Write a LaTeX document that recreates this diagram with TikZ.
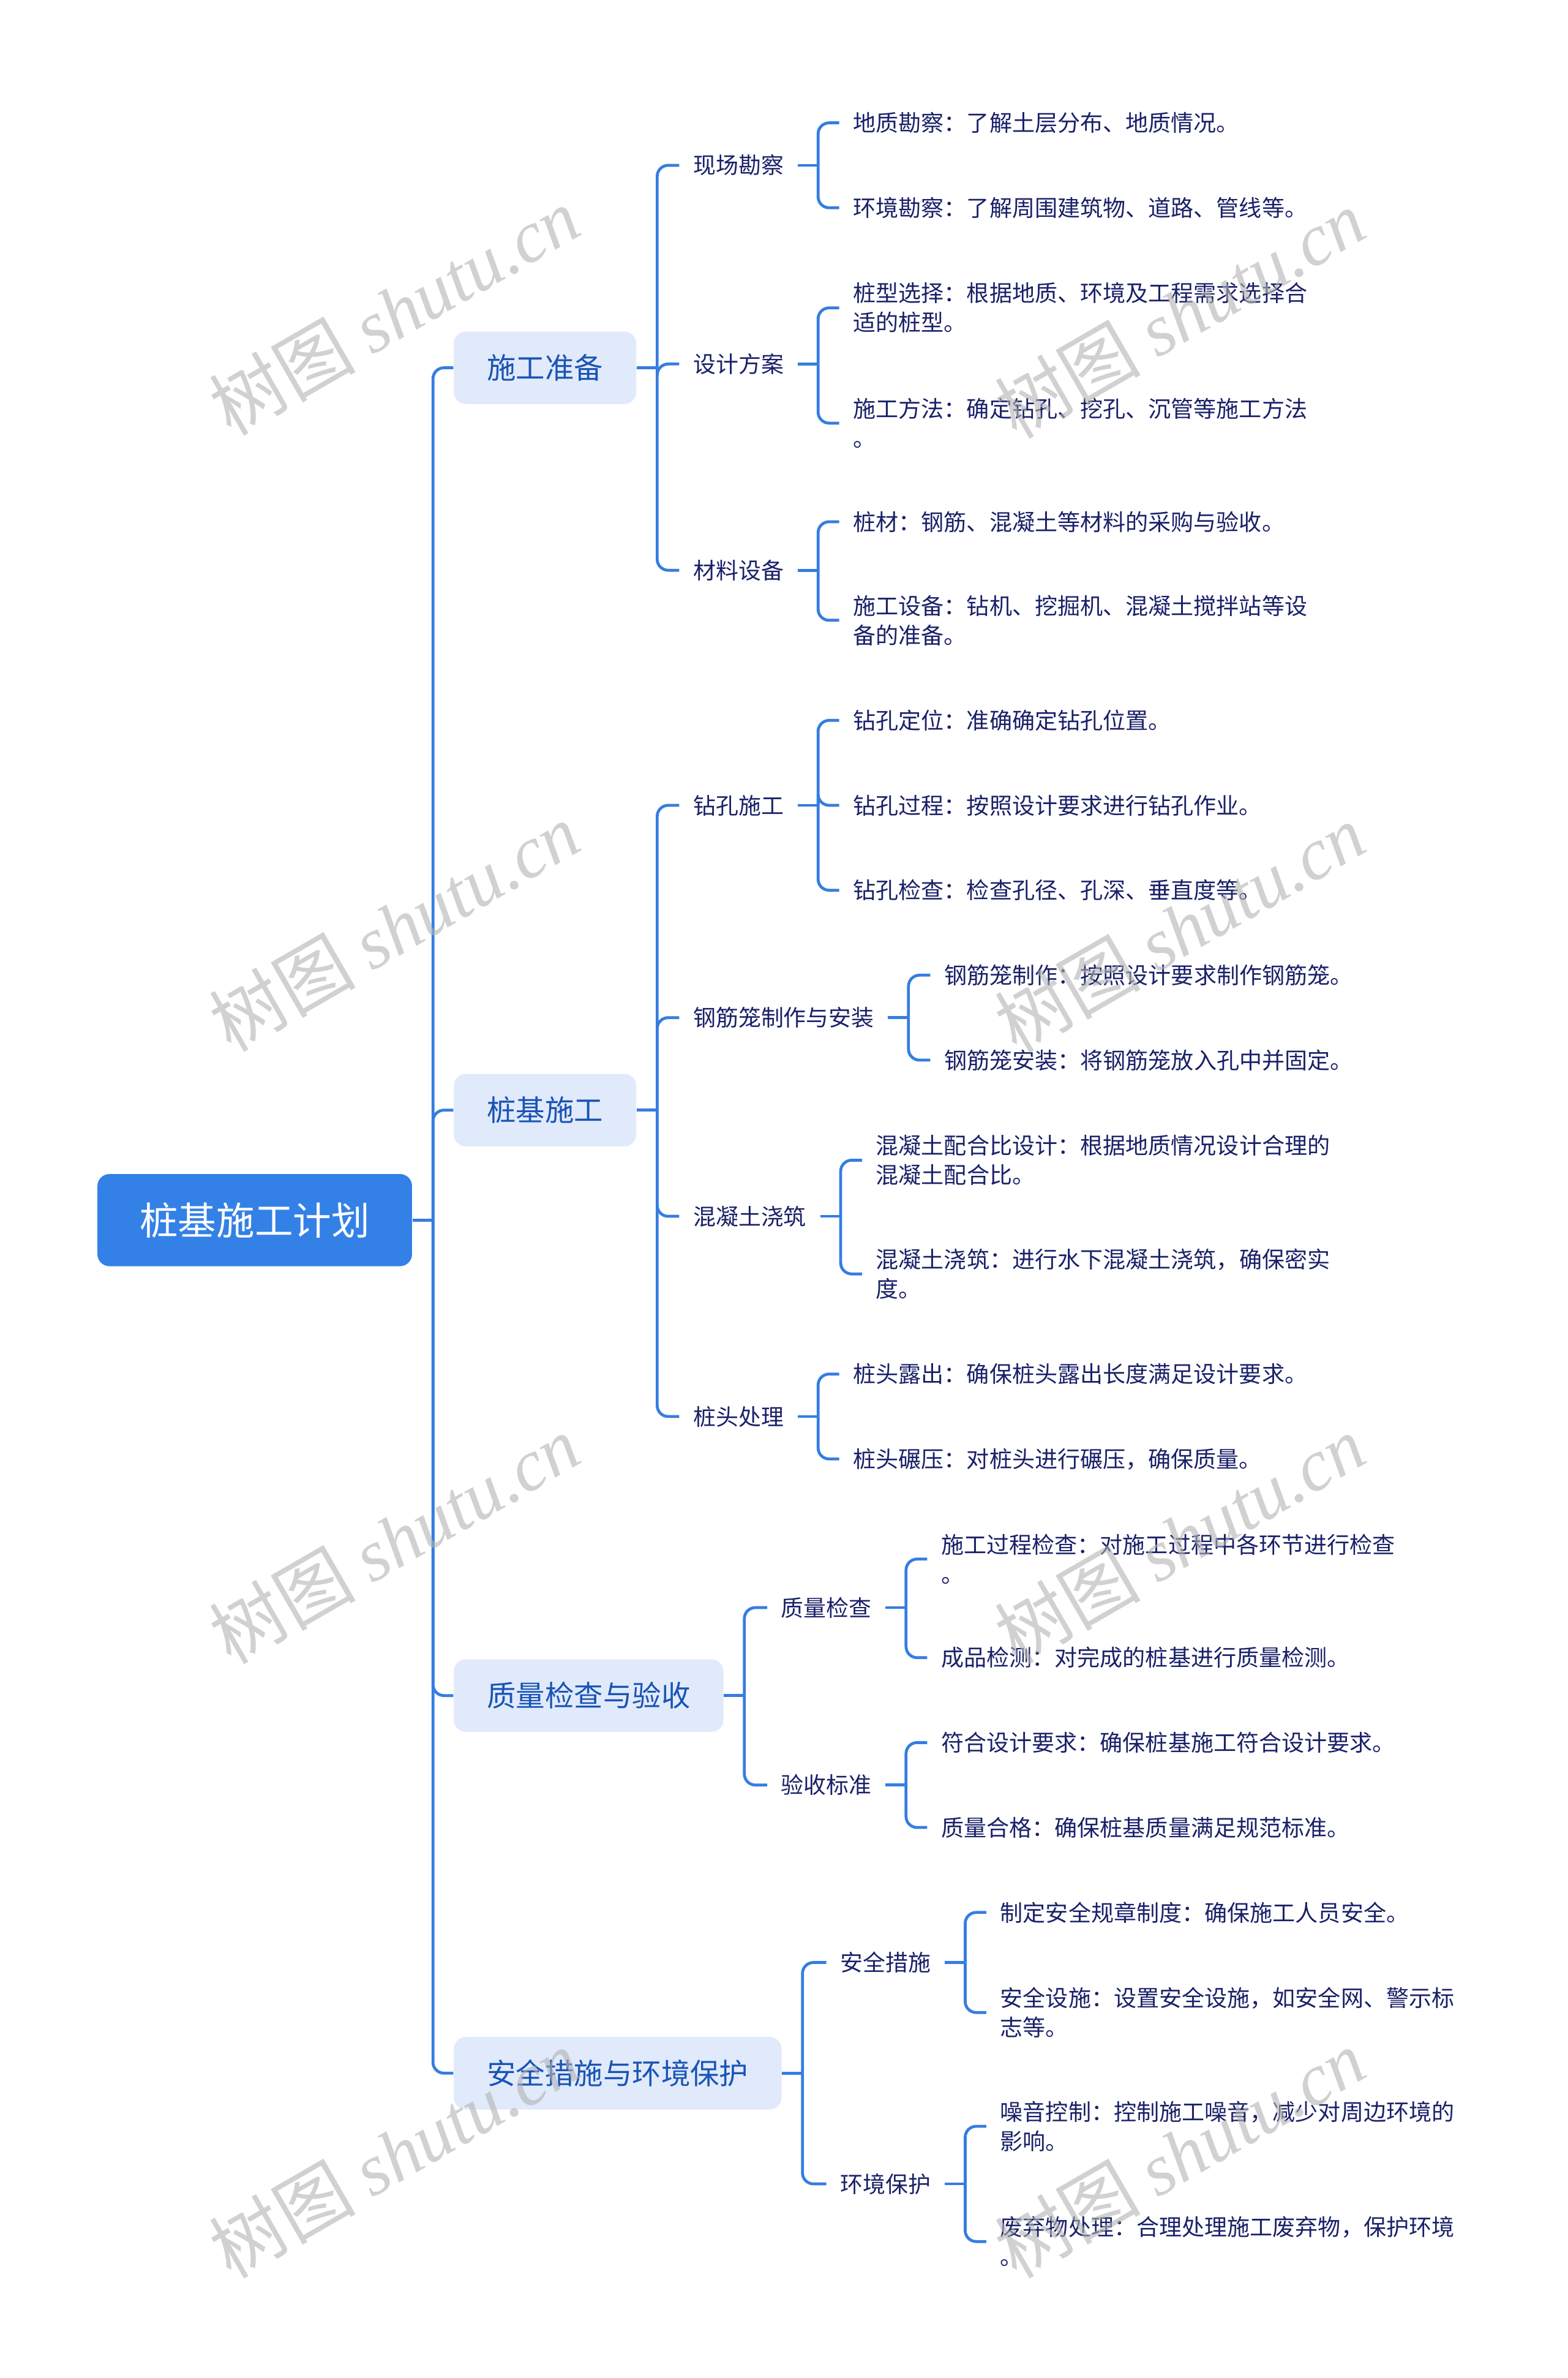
\documentclass[tikz,border=0pt]{standalone}
\usepackage{fontspec}
\setmainfont{Noto Sans CJK SC}
\newfontfamily\wmfont{Liberation Serif}
\usepackage{xcolor}
\usepackage{tikz}
\usetikzlibrary{positioning}

\definecolor{rootblue}{HTML}{3381E6}
\definecolor{topicfill}{HTML}{E1EAFB}
\definecolor{topictext}{HTML}{1A54B5}
\definecolor{subtext}{HTML}{1A2168}
\definecolor{lineblue}{HTML}{357DE1}

\begin{document}
\begin{tikzpicture}[
  x=0.2476mm, y=-0.2476mm,
  rootbox/.style={fill=rootblue, text=white, rounded corners=5.6pt,
             inner xsep=19.7pt, minimum height=42.8pt,
             font=\fontsize{17.8}{20}\selectfont},
  topic/.style={fill=topicfill, text=topictext, rounded corners=5.6pt, anchor=west,
             inner xsep=15.4pt, minimum height=33.7pt,
             font=\fontsize{13.5}{16}\selectfont},
  sub/.style={text=subtext, anchor=west, inner xsep=6.3pt, inner ysep=2pt,
             font=\fontsize{10.5}{13}\selectfont},
  leaf/.style={text=subtext, anchor=west, align=left, inner xsep=6.3pt, inner ysep=2pt,
             font=\fontsize{10.55}{13.7}\selectfont},
  ln/.style={draw=lineblue, line width=1.35pt, rounded corners=1.8mm},
  wm/.style={rotate=30, text=black!30, text opacity=0.6,
             font=\fontsize{34}{34}\selectfont}]

\useasboundingbox (0,0) rectangle (1034,1568);

% ---- root and main topics ------------------------------------------------
\node[rootbox] (R) at (168,804.5) {桩基施工计划};
\node[topic] (T1) at (299,242.5) {施工准备};
\node[topic] (T2) at (299,732)   {桩基施工};
\node[topic] (T3) at (299,1118)  {质量检查与验收};
\node[topic] (T4) at (299,1367)  {安全措施与环境保护};

\draw[ln] (R.east) -- ++(13.5,0) coordinate (r0);
\draw[ln] (r0) |- (T1.west);
\draw[ln] (r0) |- (T2.west);
\draw[ln] (r0) |- (T3.west);
\draw[ln] (r0) |- (T4.west);

% ---- 施工准备 ------------------------------------------------------------
\node[sub] (A) at (448,109) {现场勘察};
\node[sub] (B) at (448,240) {设计方案};
\node[sub] (C) at (448,376) {材料设备};
\node[leaf] (A1) at (553.5,81)  {地质勘察：了解土层分布、地质情况。};
\node[leaf] (A2) at (553.5,137) {环境勘察：了解周围建筑物、道路、管线等。};
\node[leaf] (B1) at (553.5,203) {桩型选择：根据地质、环境及工程需求选择合\\适的桩型。};
\node[leaf] (B2) at (553.5,279) {施工方法：确定钻孔、挖孔、沉管等施工方法\\。};
\node[leaf] (C1) at (553.5,344) {桩材：钢筋、混凝土等材料的采购与验收。};
\node[leaf] (C2) at (553.5,409) {施工设备：钻机、挖掘机、混凝土搅拌站等设\\备的准备。};

\draw[ln] (T1.east) -- ++(13.5,0) coordinate (t1);
\draw[ln] (t1) |- (A.west);
\draw[ln] (t1) |- (B.west);
\draw[ln] (t1) |- (C.west);
\draw[ln] (A.east) -- ++(13.5,0) coordinate (a0);
\draw[ln] (a0) |- (A1.west);
\draw[ln] (a0) |- (A2.west);
\draw[ln] (B.east) -- ++(13.5,0) coordinate (b0);
\draw[ln] (b0) |- (B1.west);
\draw[ln] (b0) |- (B2.west);
\draw[ln] (C.east) -- ++(13.5,0) coordinate (c0);
\draw[ln] (c0) |- (C1.west);
\draw[ln] (c0) |- (C2.west);

% ---- 桩基施工 ------------------------------------------------------------
\node[sub] (D) at (448,531) {钻孔施工};
\node[sub] (E) at (448,671) {钢筋笼制作与安装};
\node[sub] (F) at (448,802) {混凝土浇筑};
\node[sub] (G) at (448,934) {桩头处理};
\node[leaf] (D1) at (553.5,475) {钻孔定位：准确确定钻孔位置。};
\node[leaf] (D2) at (553.5,531) {钻孔过程：按照设计要求进行钻孔作业。};
\node[leaf] (D3) at (553.5,587) {钻孔检查：检查孔径、孔深、垂直度等。};
\node[leaf] (E1) at (613.5,643) {钢筋笼制作：按照设计要求制作钢筋笼。};
\node[leaf] (E2) at (613.5,699) {钢筋笼安装：将钢筋笼放入孔中并固定。};
\node[leaf] (F1) at (568.5,765) {混凝土配合比设计：根据地质情况设计合理的\\混凝土配合比。};
\node[leaf] (F2) at (568.5,840) {混凝土浇筑：进行水下混凝土浇筑，确保密实\\度。};
\node[leaf] (G1) at (553.5,906) {桩头露出：确保桩头露出长度满足设计要求。};
\node[leaf] (G2) at (553.5,962) {桩头碾压：对桩头进行碾压，确保质量。};

\draw[ln] (T2.east) -- ++(13.5,0) coordinate (t2);
\draw[ln] (t2) |- (D.west);
\draw[ln] (t2) |- (E.west);
\draw[ln] (t2) |- (F.west);
\draw[ln] (t2) |- (G.west);
\draw[ln] (D.east) -- ++(13.5,0) coordinate (d0);
\draw[ln] (d0) |- (D1.west);
\draw[ln] (d0) |- (D2.west);
\draw[ln] (d0) |- (D3.west);
\draw[ln] (E.east) -- ++(13.5,0) coordinate (e0);
\draw[ln] (e0) |- (E1.west);
\draw[ln] (e0) |- (E2.west);
\draw[ln] (F.east) -- ++(13.5,0) coordinate (f0);
\draw[ln] (f0) |- (F1.west);
\draw[ln] (f0) |- (F2.west);
\draw[ln] (G.east) -- ++(13.5,0) coordinate (g0);
\draw[ln] (g0) |- (G1.west);
\draw[ln] (g0) |- (G2.west);

% ---- 质量检查与验收 ------------------------------------------------------
\node[sub] (H) at (506,1060) {质量检查};
\node[sub] (I) at (506,1177) {验收标准};
\node[leaf] (H1) at (611.5,1028) {施工过程检查：对施工过程中各环节进行检查\\。};
\node[leaf] (H2) at (611.5,1093) {成品检测：对完成的桩基进行质量检测。};
\node[leaf] (I1) at (611.5,1149) {符合设计要求：确保桩基施工符合设计要求。};
\node[leaf] (I2) at (611.5,1205) {质量合格：确保桩基质量满足规范标准。};

\draw[ln] (T3.east) -- ++(13.5,0) coordinate (t3);
\draw[ln] (t3) |- (H.west);
\draw[ln] (t3) |- (I.west);
\draw[ln] (H.east) -- ++(13.5,0) coordinate (h0);
\draw[ln] (h0) |- (H1.west);
\draw[ln] (h0) |- (H2.west);
\draw[ln] (I.east) -- ++(13.5,0) coordinate (i0);
\draw[ln] (i0) |- (I1.west);
\draw[ln] (i0) |- (I2.west);

% ---- 安全措施与环境保护 --------------------------------------------------
\node[sub] (J) at (545,1294) {安全措施};
\node[sub] (K) at (545,1440) {环境保护};
\node[leaf] (J1) at (650.5,1261) {制定安全规章制度：确保施工人员安全。};
\node[leaf] (J2) at (650.5,1327) {安全设施：设置安全设施，如安全网、警示标\\志等。};
\node[leaf] (K1) at (650.5,1402) {噪音控制：控制施工噪音，减少对周边环境的\\影响。};
\node[leaf] (K2) at (650.5,1478) {废弃物处理：合理处理施工废弃物，保护环境\\。};

\draw[ln] (T4.east) -- ++(13.5,0) coordinate (t4);
\draw[ln] (t4) |- (J.west);
\draw[ln] (t4) |- (K.west);
\draw[ln] (J.east) -- ++(13.5,0) coordinate (j0);
\draw[ln] (j0) |- (J1.west);
\draw[ln] (j0) |- (J2.west);
\draw[ln] (K.east) -- ++(13.5,0) coordinate (k0);
\draw[ln] (k0) |- (K1.west);
\draw[ln] (k0) |- (K2.west);

% ---- watermarks ----------------------------------------------------------
\node[wm] (W1) at (260,205)  {树图 {\wmfont\itshape shutu.cn}};
\node[wm] (W2) at (778,207)  {树图 {\wmfont\itshape shutu.cn}};
\node[wm] (W3) at (260,611)  {树图 {\wmfont\itshape shutu.cn}};
\node[wm] (W4) at (778,612)  {树图 {\wmfont\itshape shutu.cn}};
\node[wm] (W5) at (260,1015) {树图 {\wmfont\itshape shutu.cn}};
\node[wm] (W6) at (778,1015) {树图 {\wmfont\itshape shutu.cn}};
\node[wm] (W7) at (260,1420) {树图 {\wmfont\itshape shutu.cn}};
\node[wm] (W8) at (778,1420) {树图 {\wmfont\itshape shutu.cn}};

\end{tikzpicture}
\end{document}
